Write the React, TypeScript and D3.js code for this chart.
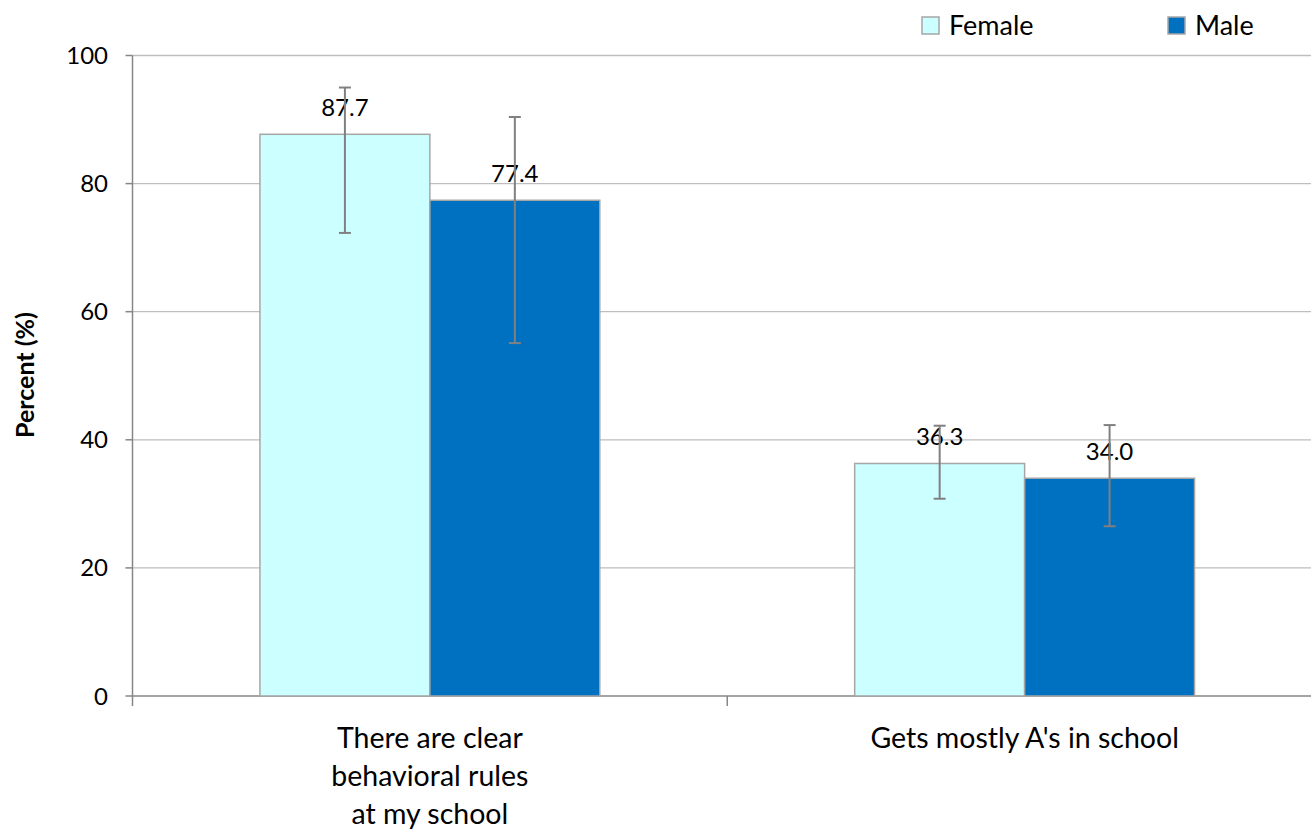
import React from "react";
import * as d3 from "d3";

const categories = ["There are clear behavioral rules at my school", "Gets mostly A's in school"];
const categoryLines = [["There are clear", "behavioral rules", "at my school"], ["Gets mostly A's in school"]];
const seriesNames = ["Female", "Male"];
const femaleValues = [87.7, 36.3];
const maleValues = [77.4, 34.0];
const femaleLower = [72.3, 30.8];
const femaleUpper = [95.0, 42.2];
const maleLower = [55.1, 26.5];
const maleUpper = [90.4, 42.3];
const yTicks = [0, 20, 40, 60, 80, 100];

const colors: Record<string, string> = { Female: "#CCFFFF", Male: "#0070C0" };
const FONT = "Lato, 'Open Sans', sans-serif";

export default function App() {
  const W = 1311, H = 832;
  const left = 132.5, right = 1322, top = 55.5, bottom = 696;
  const x0 = d3.scaleBand<string>().domain(categories).range([left, right]).paddingInner(0).paddingOuter(0);
  const x1 = d3.scaleBand<string>().domain(seriesNames).range([0, x0.bandwidth()]).paddingInner(0).paddingOuter(0.75);
  const y = d3.scaleLinear().domain([0, 100]).range([bottom, top]);

  const data = categories.map((c, i) => ({
    cat: c,
    bars: [
      { s: "Female", v: femaleValues[i], lo: femaleLower[i], hi: femaleUpper[i] },
      { s: "Male", v: maleValues[i], lo: maleLower[i], hi: maleUpper[i] },
    ],
  }));

  return (
    <div style={{ position: "absolute", left: 0, top: 0 }}>
      <svg width={W} height={H} style={{ display: "block", fontFamily: FONT }}>
        <rect width={W} height={H} fill="#fff" />
        {/* gridlines */}
        {yTicks.filter((t) => t > 0).map((t) => (
          <line key={t} x1={left} x2={W} y1={y(t)} y2={y(t)} stroke="#BEBEBE" strokeWidth={1.3} />
        ))}
        {/* y axis */}
        <line x1={left} x2={left} y1={top} y2={bottom + 10} stroke="#868686" strokeWidth={1.5} />
        {yTicks.map((t) => (
          <g key={t}>
            <line x1={left - 7} x2={left} y1={y(t)} y2={y(t)} stroke="#868686" strokeWidth={1.5} />
            <text x={108} y={y(t) + 8.5} textAnchor="end" fontSize={24} fill="#000">
              {t}
            </text>
          </g>
        ))}
        {/* x axis */}
        <line x1={left} x2={W} y1={bottom} y2={bottom} stroke="#868686" strokeWidth={1.5} />
        {categories.map((c) => (
          <line key={c} x1={(x0(c) as number) + x0.bandwidth()} x2={(x0(c) as number) + x0.bandwidth()} y1={bottom} y2={bottom + 10} stroke="#868686" strokeWidth={1.5} />
        ))}
        {/* bars */}
        {data.map((d) => (
          <g key={d.cat} transform={`translate(${x0(d.cat)},0)`}>
            {d.bars.map((b) => (
              <rect key={b.s} x={x1(b.s)} y={y(b.v)} width={x1.bandwidth()} height={bottom - y(b.v)} fill={colors[b.s]} stroke="#A6A6A6" strokeWidth={1.5} />
            ))}
            {d.bars.map((b) => {
              const cx = (x1(b.s) as number) + x1.bandwidth() / 2;
              return (
                <g key={b.s + "e"}>
                  <text x={cx} y={y(b.v) - 18.5} textAnchor="middle" fontSize={24} fill="#000">
                    {b.v.toFixed(1)}
                  </text>
                  <line x1={cx} x2={cx} y1={y(b.hi)} y2={y(b.lo)} stroke="#808080" strokeWidth={2} />
                  <line x1={cx - 6} x2={cx + 6} y1={y(b.hi)} y2={y(b.hi)} stroke="#808080" strokeWidth={2} />
                  <line x1={cx - 6} x2={cx + 6} y1={y(b.lo)} y2={y(b.lo)} stroke="#808080" strokeWidth={2} />
                </g>
              );
            })}
          </g>
        ))}
        {/* category labels */}
        {categories.map((c, i) => (
          <text key={c} x={(x0(c) as number) + x0.bandwidth() / 2} textAnchor="middle" fontSize={28.5} fill="#000">
            {categoryLines[i].map((l, j) => (
              <tspan key={j} x={(x0(c) as number) + x0.bandwidth() / 2} y={747.5 + j * 38}>
                {l}
              </tspan>
            ))}
          </text>
        ))}
        {/* y title */}
        <text transform="translate(34,375) rotate(-90)" textAnchor="middle" fontSize={25} fontWeight="bold" fill="#000">
          Percent (%)
        </text>
        {/* legend */}
        {seriesNames.map((s, i) => {
          const lx = [922, 1168][i];
          return (
            <g key={s}>
              <rect x={lx} y={17} width={17} height={17} fill={colors[s]} stroke="#A6A6A6" strokeWidth={1.5} />
              <text x={lx + 27} y={35} fontSize={27} fill="#000">
                {s}
              </text>
            </g>
          );
        })}
      </svg>
    </div>
  );
}
